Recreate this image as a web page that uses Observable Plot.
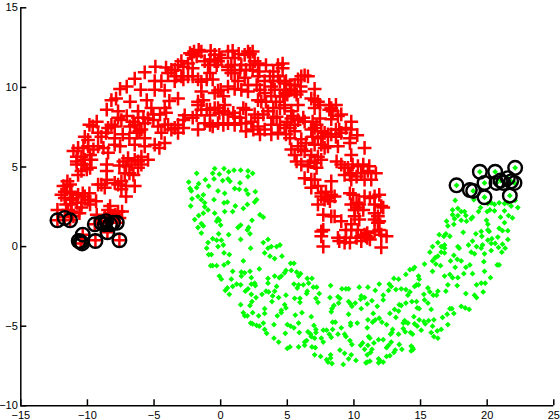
<!DOCTYPE html>
<html><head><meta charset="utf-8">
<script src="https://cdn.jsdelivr.net/npm/d3@7"></script>
<script src="https://cdn.jsdelivr.net/npm/@observablehq/plot@0.6"></script>
<style>html,body{margin:0;background:#fff}svg{display:block}</style>
</head><body><div id="chart"></div><script>
const xTicks=[-15,-10,-5,0,5,10,15,20,25];
const yTicks=[-10,-5,0,5,10,15];
const redPoints=[[-2,12.25],[-1.65,12.35],[-0.75,12.3],[-2.15,12.05],[-0.1,12.05],[0.9,12.3],[2.05,12.25],[2.2,12.1],[1.35,12.1],[-0.45,11.65],[1.05,11.85],[2.8,11.5],[3.4,11.4],[4.3,11.4],[-2.95,11.65],[-2.45,11.5],[-0.95,11.4],[-4.9,11.3],[-4.1,11.25],[-3.45,11.1],[-2.1,11.2],[-5.7,10.95],[0.55,11.1],[1.45,11.1],[2.4,11.1],[-6.45,10.55],[-2.95,10.7],[-2.8,10.5],[-1.45,10.35],[-0.6,10.5],[0.8,10.9],[2.8,10.7],[4.3,10.7],[-4.95,10.4],[-4.45,10.4],[-7.05,10.05],[-7.55,9.9],[-6,9.85],[-4.95,9.85],[-4.2,9.8],[-1.45,9.75],[-0.2,9.8],[1.05,9.9],[2.05,9.75],[3.8,10.05],[-8.2,9.2],[-7.85,9.3],[-6.8,9.1],[-5.55,9.2],[-3.85,9.15],[-3.2,9.3],[3.05,9.1],[-8.55,8.6],[-7.7,8.5],[-6.2,8.5],[-5.2,8.7],[-4.1,8.4],[-1.7,8.9],[-1.45,8.6],[-0.45,8.7],[0.3,8.9],[1.9,8.6],[3.55,8.5],[-9.3,7.85],[-7.45,7.95],[-5.45,8.05],[-2.7,8.25],[-1.8,8.25],[-0.8,8.25],[1.05,8.15],[4.2,8.15],[-9.85,7.65],[-8.2,7.65],[-6.45,7.65],[-3.95,7.65],[-3.2,7.65],[-0.8,7.65],[0.55,7.75],[2.8,7.55],[3.8,7.65],[-1.7,7.35],[-10.2,6.9],[-8.95,6.9],[-6.1,7.25],[-4.45,7.15],[-3.2,7.15],[1.9,7.25],[2.95,7.05],
[-10.7,6.2],[-9.95,6.3],[-9.2,6.3],[-7.95,6.4],[-4.95,6.4],[-4.2,6.5],[-10.8,5.65],[-10.2,5.45],[-9.7,5.45],[-8.45,5.9],[-5.95,5.65],[-5.45,5.45],[-10.8,5.15],[-10.45,4.75],[-9.8,4.95],[-8.55,4.75],[-7.6,5.1],[-6.7,5.15],[-6.2,4.95],[-7.2,4.6],[-6.55,4.5],[-8.55,4.2],[-11.5,4.1],[-11.55,3.8],[-9.2,3.9],[-7.7,3.9],[-6.45,3.8],[-8.7,3.7],[-7.45,3.6],[-11.95,3.25],[-11.2,3.35],[-10.35,3.35],[-7.1,3.15],[-11.3,2.95],[-9.95,2.95],[-9.35,2.85],[-11.6,2.65],[-10.8,2.75],[-8.3,2.55],[-12.25,2.3],[-11.2,2.2],[-10.6,2.1],[-9.3,2],[-7.4,2.2],[-7.9,2],[-8.3,2.1],
[-12.25,1.65],[-11.3,1.65],[-11.7,1.85],[-10.35,0.75],[-10.5,0.2],[-9.4,0.4],[-7.6,0.4],[-8.5,0.9],[-7.8,1.5],[-8.6,1.6],[-8.95,1.5],[-9.45,1.4],
[4.65,11.5],[4.65,11.2],[6.3,10.75],[5.8,10.5],[4.9,10.4],[7.05,9.9],[6,10.05],[5.55,9.75],[4.8,9.85],[5,9.55],[7.45,8.9],[6.8,9.3],[8.3,8.7],[8.65,8.9],[5.8,8.9],[4.8,8.7],[9.05,8.3],[9.8,7.85],[8.3,8],[7.45,8.05],[6.3,7.85],[5.3,8.05],[5.55,7.65],[9.05,7.15],[9.8,7.35],[10.25,7],[7.8,7.15],[7.05,7.45],[4.8,7.45],[5.55,7.25],[8.65,6.9],[7.3,6.8],[6.05,6.75],
[9.7,6.5],[10.8,6.2],[8.05,6.3],[7.05,6.4],[5.3,6.1],[6.05,6.1],[5.7,5.35],[6.7,5.35],[7.55,5.45],[9.8,5.75],[8.7,5.35],[11.15,5.05],[9.55,4.95],[10.55,4.6],[11.65,4.6],[6.3,4.3],[7.05,4.2],[8.3,4.1],[9.8,4.2],[11.3,4.2],[6.8,3.7],[7.55,3.35],[8.3,3.25],[9.95,3.25],[11.55,3.15],[11.9,3.25],[7.3,2.65],[8.2,2.85],[10.3,2.45],[12.2,2.45],[7.7,2],[8.55,1.9],[10.05,1.9],[11.55,2.1],[11.8,1.5],[9.05,1.6],[9.8,1.05],[7.7,1.05],[12.45,0.65],[7.55,0.65],[10.9,0.65],[8.9,0.35],[9.7,0.25],[10.55,0.35],[7.7,0],[12.05,-0.05],[11,0.55],[9.4,0.55],[11.9,1.05],
[-2.3,12.15],[-1.8,11.95],[-1.45,12.25],[-0.45,12.05],[0.05,11.85],[0.55,12.25],[1.8,12.05],[2.4,12.25],[-0.2,11.65],[-0.8,11.75],[-1.2,11.65],[-2.8,11.3],[-3.2,11.4],[-3.7,11.1],[-3.95,10.9],[-3.35,10.7],[-3.45,10.4],[-2.45,10.7],[-2.1,10.7],[-1.7,10.5],[-1.05,10.5],[-0.8,10.9],[-0.3,11.4],[0.55,11.3],[0.8,11.4],[1.05,10.9],[1.55,11.4],[1.9,11.1],[2.2,11.4],[2.55,11.65],[2.9,11],[3.3,10.4],[3.7,10.7],[3.95,11],[4.45,10.4],[1.8,10.6],[1.3,10.4],[1.55,9.85],[0.55,10.05],[0,9.85],[-0.45,9.65],[0.2,9.45],[2.05,10.15],[2.7,10.15],[3.95,10.4],[2.95,9.85],[3.3,9.65],[4.05,9.85],[4.45,9.45],[3.8,9.45],[2.8,9.2],[3.4,9.1],[4.15,9.1],[4.45,8.7],[3.95,8.7],
[-1.3,9.2],[-1.7,9.1],[-1.05,8.6],[-0.8,8.6],[-0.2,8.7],[-0.1,8.4],[0.2,8.5],[0.55,8.3],[0.95,8.4],[1.45,8.1],[1.7,8.7],[2.55,8.3],[2.3,7.85],[2.8,8.1],[3.2,8.3],[3.95,8.1],[4.45,7.65],[4.3,7.15],[3.8,7.05],[3.3,7.35],[2.45,7.35],[1.9,7.75],[1.55,7.75],[1.05,7.65],[0.2,7.65],[-0.2,7.75],[-0.6,7.55],[-1.2,7.75],[-2.1,8.1],[-2.8,7.95],[-2.8,7.45],[-3.7,7.35],[-4.2,7.65],[-3.45,7.45],[-4.7,7.55],[-5.05,7.95],[-5.7,7.75],[-5.95,7.35],[-6.55,7.85],[-6.8,7.55],[-6.3,7.15],[-5.7,6.8],[-4.55,8.3],[-4.2,8.7],[-5.05,8.3],[-5.8,8.1],[-6.2,8.1],[-7.05,8.2],[-7.7,8.1],[-7.95,7.55],[-8.45,7.45],[-9.6,7.55],[-9.2,7.15],[-8.6,7.15],[-7.95,6.8],[-7.35,7.05],[-6.85,6.8],[-9.95,6.7],
[-11.05,6],[-10.3,6.2],[-9.55,6.1],[-8.8,6.2],[-7.55,6.3],[-6.45,6.4],[-5.7,6.3],[-4.6,6.2],[-10.45,5.65],[-9.8,5.75],[-10.8,5.35],[-10.3,5.15],[-10.05,4.85],[-10.7,4.5],[-8.55,5.15],[-7.3,5.35],[-6.95,5.55],[-6.45,5.45],[-5.95,5.15],[-7.1,5.05],[-6.85,4.6],[-6.2,5.35],[-8.95,3.9],[-7.95,4],[-7.45,4.1],[-7.1,3.8],[-11.8,3.8],[-11.3,3.9],[-11.7,3.45],[-11.3,3.45],[-10.7,3.25],[-10.2,3.15],[-9.85,3.35],[-11.7,3.05],[-11.1,3.05],[-10.45,2.75],[-9.8,2.65],[-11.2,2.65],[-11.45,2.3],[-10.45,2.45],[-8.45,2.3],[-7.7,2.2],[-8.1,1.9],[-8.7,1.9],[-7.6,1.8],[-11.05,1.9],
[6.05,10.7],[6.55,10.7],[5.55,10.15],[5.2,10.15],[4.8,10.25],[6,9.75],[5.3,9.85],[4.85,9.65],[4.7,9.45],[5.7,9.55],[7.05,9.2],[7.3,9.1],[7.05,8.7],[8.15,8.9],[8.4,8.5],[8.15,8.6],[4.8,8.9],[5.3,8.5],[5.45,8.2],[5.8,7.95],[6.2,8.1],[6.9,7.85],[5,7.85],[8.8,8.2],[5.2,7.45],[6.8,7.35],[7.2,7.65],[7.55,7.25],[8.9,7.35],[9.4,7.45],[8.65,7.35],[4.9,7.05],[6.9,6.9],[7.65,6.9],[8.05,7.05],[8.3,7.05],[9.7,6.8],[5.2,6.8],
[5.8,6.3],[6.4,6.5],[7.55,6.4],[8.8,6.3],[5.55,5.75],[6.3,6],[6.8,5.75],[7.3,5.65],[7.8,6.2],[6.05,5.15],[6.55,5.05],[7.05,5.25],[7.2,4.95],[9.3,4.95],[9.05,5.15],[9.9,5.15],[10.3,5.05],[11.05,4.75],[10.7,5.15],[9.7,4.5],[10.2,4.4],[9.3,4.5],[9.8,4.6],[10.8,4.2],[6.8,4.2],[7.3,3.8],[7.55,3.15],[7.9,3.45],[8.05,3.05],[8.55,3.15],[7.8,2.95],[9.7,3.35],[10.2,2.75],[10.05,2.3],[10.4,2.65],[10.8,3.15],[11.2,3.05],[11.55,2.65],[12.05,2.55],[9.8,2.65],[10.7,2.3],[11.55,1.7],[11.9,1.6],[11.8,1.9],[8.3,1.9],[9.8,1.4],[10.4,1.7],[9.4,1.05],[10.3,1.05],[10.8,0.75],[11,0.85],[11.2,0.45],[10.55,0.65],[12.05,0.75],[8.8,0.55],[9.3,0.25],[7.55,0.95],[10.2,0.55],[11.55,0.95]];
const greenPoints=[[-1.8,4.6],[-0.45,4.9],[0.25,4.9],[-0.6,4.6],[-0.1,4.55],[0.6,4.7],[1,4.8],[1.5,4.8],[2.05,4.75],[2.4,4.6],[2.05,4.4],[-1.15,4.2],[-2.4,4.05],[-0.5,4.25],[0.15,4.15],[0.55,4.25],[0.7,4.1],[1.45,4],[-1.65,3.95],[-1.8,3.7],[-0.9,3.8],[-2.3,3.65],[-2.2,3.5],[-0.2,3.5],[1.05,3.65],[1.4,3.6],[1.9,3.55],[2.6,3.45],[0.3,3.35],[2.05,3.3],[-1.3,3.25],[-1.7,3.15],[-0.5,2.95],[-2.15,3],[-1.45,2.95],[0.25,2.75],[0.5,2.8],[2.7,2.95],[2.55,2.8],[-1.2,2.75],[-2.25,2.55],[-1.2,2.5],[2,2.65],[1.1,2.55],[1.7,2.4],[-0.95,2.3],[-1.3,2.1],[-1.65,1.95],[-0.45,2.1],[0.3,2.2],[0.9,2.2],[2.95,2],[3.2,1.85],[-1.95,1.7],[-0.2,1.75],[-0.3,1.6],[-0.1,1.65],[-1.45,1.45],[-1.3,1.3],[-1.7,1.2],[0,1.35],[2.35,1.65],[1.5,1.35],[1.3,1.2],[2.1,1.2],[2,1.05],[-1.45,0.85],[-0.15,0.8],[0.6,0.75],[2.2,0.8],[-0.6,0.5],[-0.3,0.4],[0.05,0.4],[1.5,0.45],[3.55,0.45],[-0.95,0.25],[-0.2,0],[0.2,0.1],[3.2,0.25],[3.8,0],[4.2,0],[4.45,0.1],[2.25,-0.1],[3.55,-0.1],[-0.9,-0.5],[-1.05,-0.1],[-0.7,-0.5],[0.25,-0.4],[0.65,-0.5],[3.3,-0.4],[3.7,-0.6],[4.05,-0.75],[1.7,-0.9],[0.55,-1],[-0.6,-1.2],[-0.75,-1.2],[0.25,-1.15],[0.9,-1.55],[-0.3,-1.2],[2.9,-1.4],[2.2,-1.55],[1.55,-1.6],[1.8,-1.65],[-0.1,-1.85],[0.05,-2.05],[0.8,-2.05],[1.55,-1.85],[2.3,-1.95],[3.55,-2],[4.05,-1.85],[4.4,-1.95],
[0.35,-2.75],[0.5,-2.6],[0.9,-2.5],[1.2,-2.35],[1.5,-2.4],[0.65,-3],[1.85,-2.8],[2.05,-2.65],[2.3,-2.35],[2.55,-2.3],[2.6,-2.45],[3.55,-2.3],[2.3,-3],[2.65,-3.2],[3.1,-3],[3.4,-2.8],[3.6,-2.85],[4.05,-2.8],[4.2,-2.5],[3.9,-3.1],[4.35,-3.2],[2.35,-3.45],[1.5,-3.65],[2.2,-3.7],[3.85,-3.45],[3.3,-3.9],[4.55,-4],[1.7,-4.15],[2.4,-4.15],[3.3,-4.2],[1.8,-4.35],[2,-4.35],[2.85,-4.35],[4.25,-4.35],[2.25,-4.8],[2.4,-4.85],[3.2,-4.8],[2.7,-4.95],[2.9,-5],[4,-4.9],[3.3,-5.2],[3.45,-5.45],[4,-5.75],[4.35,-6],
[5.5,-2.35],[5.85,-2.4],[6.2,-2.4],[6.6,-2.3],[6.95,-2.55],[7.2,-2.55],[8.25,-2.45],[5.75,-2.6],[6.5,-2.8],[6.45,-2.95],[7.4,-2.95],[9.1,-2.65],[9.4,-2.65],[9.6,-2.65],[10.4,-2.55],[11.05,-2.55],[11.9,-2.35],[11.6,-2.75],[12.65,-2.35],[12.8,-2.5],[12.6,-2.75],[13.15,-2.7],[13.55,-2.65],[13.9,-2.7],[14.2,-2.85],[14.05,-3.05],[14.7,-2.4],[14.55,-2.5],[14.85,-2.4],[15.55,-2.6],[15.7,-2.85],[15.95,-3.05],[16.2,-3.05],[16.3,-2.8],[16.9,-2.8],[17.05,-2.4],[17.75,-2.45],[15.25,-3],[18.4,-2.95],[19.05,-3.05],[19.2,-3.2],[19.7,-2.85],[19.2,-2.4],[19.55,-2.3],[19.85,-2.3],[4.9,-3.05],[5.55,-3.25],[5.95,-3.25],[5.95,-3.5],[8.2,-3.2],[7.15,-3.25],[7.3,-3.5],[8.8,-3.15],[8.95,-3.25],[8.85,-3.55],[8.5,-3.7],[9.6,-3.45],[9.75,-3.6],[9.85,-3.75],[10.1,-3.55],[10.55,-3.1],[10.5,-3.3],[10.8,-3.2],[10.55,-3.9],[11,-3.6],[11.35,-3.4],[11.75,-3.75],[12.2,-3.05],[12.2,-3.35],[13.4,-3.65],[13.55,-3.7],[13.9,-3.55],[14.35,-3.45],[14.7,-3.45],[15.3,-3.35],[15.55,-3.55],[14.75,-3.85],[14.9,-3.9],[15.8,-3.95],[4.8,-3.65],[4.9,-3.85],[4.55,-4.15],[13.05,-3.95],[13.35,-4.05],[8.35,-3.9],[8.3,-4.1],[9.6,-4.25],[11.45,-4.2],[12.7,-4.2],[13.15,-4.45],[14.5,-4.4],[5.6,-4.3],[6.1,-4.15],[6.8,-4.4],[17.2,-3.9],[17.35,-3.9],[17.5,-4.2],[18.05,-3.75],[18.35,-3.85],[18.65,-3.95],[17,-4.25],[16.65,-4.45],[16,-4.6],[17.05,-4.9],[15.25,-4.7],[15.35,-4.85],[15.6,-4.65],[14.9,-4.6],[13.7,-4.8],[13.9,-4.75],[14.05,-4.8],[13.8,-4.65],[14.55,-4.85],[14.75,-5],[12.45,-4.9],[11.6,-4.6],[11.9,-4.5],[12.1,-4.75],[11.4,-4.75],[11.05,-4.6],[10.25,-4.8],[9.75,-4.8],[9.75,-4.95],[8.4,-4.75],[8.6,-4.75],[9.05,-5.1],[7,-4.95],[5.85,-4.8],[5,-4.9],[5.25,-5],[5.5,-5.1],[11,-5.1],[12.9,-5.2],[13.7,-5.15],[13.85,-5.35],[14.25,-5.4],[14.4,-5.5],[15.05,-5.25],[15.9,-5],[16.55,-5.2],[16.25,-5.3],[15.8,-5.4],[16,-5.65],[16.3,-5.75],[4.85,-5.45],[5.9,-5.4],[6.55,-5.35],[6.75,-5.5],[6.8,-5.65],[7.15,-5.2],[7.15,-5.4],[7.7,-5.25],[7.95,-5.25],[8.4,-5.2],[8.15,-5.5],[8.3,-5.7],[8.8,-5.5],[9.3,-5.5],[9.4,-5.65],[9.7,-5.9],[7.55,-5.75],[7.7,-6],[7.05,-5.75],[6.3,-6],[6.45,-5.9],[6.3,-6.2],[5.85,-6.3],[5.2,-6.3],[5,-6.4],[6.85,-6.3],[7.1,-6.35],[7.05,-6.8],[7.5,-6.9],[7.95,-7.1],[8.05,-7.25],[8.35,-7.35],[8.25,-6.8],[8.25,-7],[8.95,-6.5],[9.3,-6.7],[9.8,-6.8],[9.6,-7.05],[10.15,-7.15],[9.2,-7.4],[9.85,-6.15],[10.5,-6.2],[10.65,-6.05],[10.8,-6.45],[11.1,-5.65],[11.2,-5.75],[11.05,-6.2],[11.5,-6.05],[11.85,-5.85],[12.2,-5.85],[11.35,-6.45],[11.25,-6.65],[11,-6.8],[11,-7.25],[11.2,-7.2],[10.9,-7.3],[11.85,-7.05],[12,-7.2],[11.85,-7.3],[12.2,-7.25],[12.45,-6.9],[12.7,-6.85],[13,-6.65],[13.1,-6.5],[12.45,-6.35],[12.6,-6.2],[12.8,-6],[13.4,-6.15],[13.6,-6.45],[14.3,-6.25],[14.4,-6.35],[14.3,-6.55],[14.45,-6.45],[12.75,-5.5],[12.85,-5.4],[13.35,-5.5],
[17.6,2.9],[17.4,2.3],[17.8,2.4],[17.4,2],[17.8,1.95],[18.05,2.2],[18.3,2.2],[18.4,1.95],[18.05,1.65],[17.55,1.75],[18.9,1.85],[18.8,1.75],[18.45,1.6],[19.35,2.2],[19.5,2.45],[20.05,2.7],[20.3,2.75],[20.55,2.65],[20.9,2.75],[21.3,2.7],[21.55,2.75],[22.1,2.9],[21.8,2.55],[22.3,2.45],[21.3,2.25],[20.55,2.25],[20.2,2.3],[20,2.2],[21,1.85],[21.9,1.8],[21.6,1.95],[19.95,1.65],[20.05,1.4],[21.3,1.5],[16.95,1.6],[17.05,1.3],[17.5,1.4],[18.2,0.9],[19.15,0.8],[16.4,0.75],[16.75,0.65],[16.9,0.8],[17.2,0.65],[19.55,0.95],[19.6,0.65],[20.05,1.05],[20.15,0.95],[20.9,1.15],[21.15,1],[21.55,1],[16.3,0.25],[15.9,0],[16.55,0],[16.8,0.1],[16.8,-0.1],[17.8,0],[17.9,-0.1],[18.9,0.35],[18.6,0.1],[19.2,0],[19.65,0.1],[20.05,0.4],[20.35,0.5],[20.8,0.6],[20.3,0.2],[20.6,0.2],[21.15,0.15],[21.55,0.45],[20.85,-0.05],[21.35,-0.1],[19.55,-0.1],[20.3,-0.25],[21.1,-0.35],[15.7,-0.35],[16.55,-0.35],[16.8,-0.4],[17.5,-0.55],[18.8,-0.35],[19.05,-0.45],[19.8,-0.45],[16.1,-0.7],[16.3,-0.6],[15.9,-0.9],[16.15,-1.1],[16.5,-1.2],[17.25,-0.9],[17.75,-0.8],[18.05,-0.9],[19.75,-0.95],[15.3,-1.1],[14.45,-1.4],[14.2,-1.45],[14.55,-1.3],[13.9,-1.75],[15.9,-1.55],[16.8,-1.85],[17.6,-1.3],[18.7,-1.15],[18.4,-1.3],[19.8,-1.55],[20.75,-1.15],[20.9,-1.15],[17.2,-1.75],[17.4,-1.95],[17.8,-1.95],[18.25,-1.7],[18.9,-1.7],[20.25,-1.95],[13,-2],[13.35,-2.05],[14.85,-1.85],[14.9,-2.05],[4.6,-0.6],[5.25,-1.05],[5.5,-1.05],[4.9,-1.5],[4.8,-1.65],[5.3,-1.5],[5.7,-1.6],[6,-1.7],[5.85,-1.85],[6.5,-2],[6.85,-2],[4.55,-1.85],
[17.7,3.85],[18.95,3.5],[19.45,4.7],[20.6,4.7],[22.1,4.95],[19.8,4],[20.7,4],[19.8,3.1],[21.7,3.2],[22.05,4],[21.8,4.1],[21.55,4.3],[21,4.15],[19,2.95]];
const circlePoints=[[17.7,3.85],[18.95,3.5],[18.7,3.55],[19.45,4.7],[20.6,4.7],[22.1,4.95],[19.8,4],[20.7,4],[19.8,3.1],[21.7,3.2],[22.05,4],[21.8,4.1],[21.55,4.3],[21,4.15],[21.2,4],
[-12.25,1.65],[-11.7,1.8],[-11.3,1.65],[-10.35,0.75],[-10.5,0.3],[-10.4,0.2],[-10.65,0.35],[-9.4,0.35],[-9.45,1.4],[-8.95,1.5],[-8.6,1.6],[-8.08,1.5],[-7.8,1.5],[-8.5,0.9],[-7.6,0.4],[-8.7,1.4],[-8.3,1.4]];

const plot=Plot.plot({
  width:560,height:420,marginLeft:20.3,marginRight:6.7,marginTop:7.3,marginBottom:14.7,
  style:{fontFamily:"'Liberation Sans',sans-serif",fontSize:"11px",color:"#000",background:"#fff",overflow:"visible"},
  x:{domain:[-15,25],label:null},
  y:{domain:[-10,15],label:null},
  marks:[
    Plot.dot(redPoints,{x:d=>d[0],y:d=>d[1],symbol:"plus",r:4.5,stroke:"#ff0000",strokeWidth:2.5}),
    Plot.dot(greenPoints,{x:d=>d[0],y:d=>d[1],symbol:"diamond2",r:2.6,fill:"#00ff00"}),
    Plot.dot(circlePoints,{x:d=>d[0],y:d=>d[1],r:6.8,stroke:"#000",strokeWidth:2.4}),
    Plot.ruleX([-15],{stroke:"#000",strokeWidth:1.5}),
    Plot.ruleY([-10],{stroke:"#000",strokeWidth:1.5}),
    Plot.axisX({ticks:xTicks,tickSize:-6,tickPadding:11,stroke:"#000",strokeWidth:1.5,label:null}),
    Plot.axisY({ticks:yTicks,tickSize:-6,tickPadding:9,stroke:"#000",strokeWidth:1.5,label:null})
  ]
});
document.getElementById("chart").appendChild(plot);
</script></body></html>
